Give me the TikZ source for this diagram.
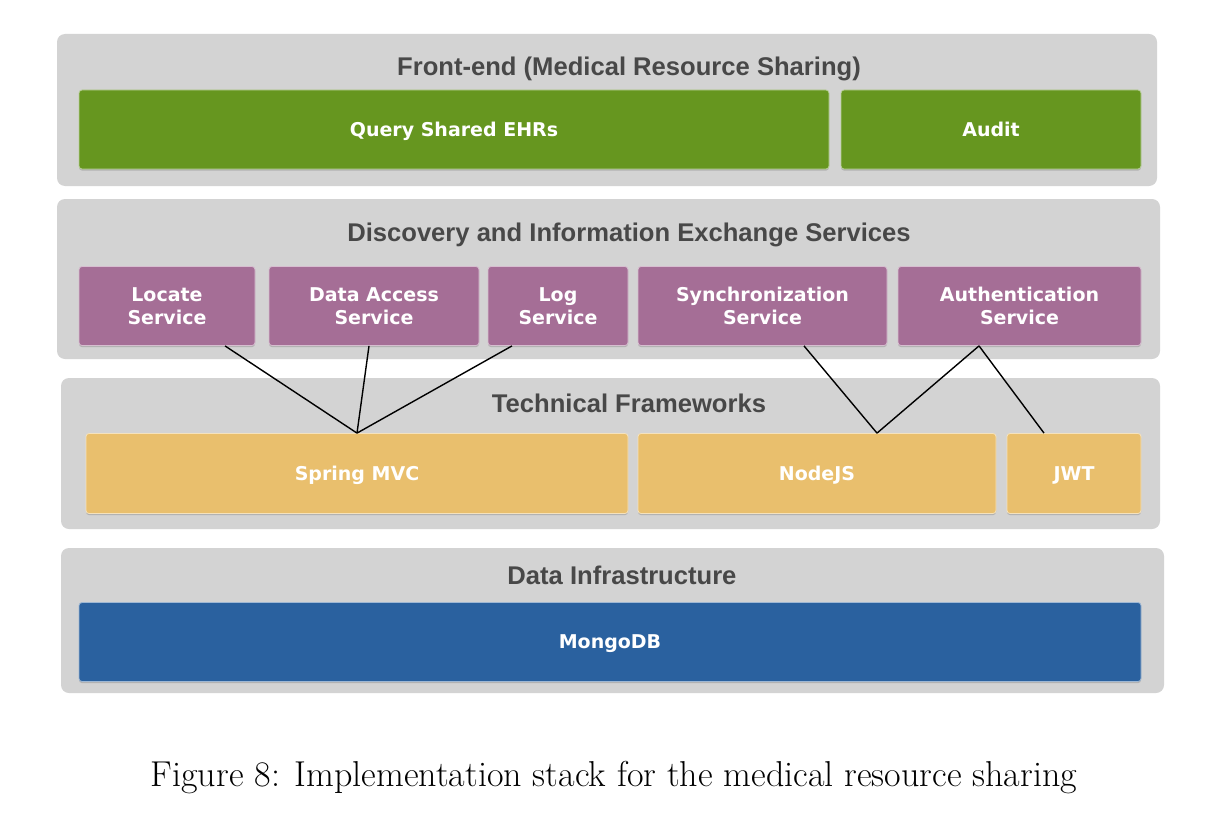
\documentclass[tikz,border=0pt]{standalone}
\usepackage{fontspec}
\newfontfamily\headfont{Liberation Sans}
\newfontfamily\boxfont{DejaVu Sans}
\definecolor{panelgray}{RGB}{211,211,211}
\definecolor{headgray}{RGB}{72,72,72}
\definecolor{fgreen}{RGB}{102,150,31}
\definecolor{fpurple}{RGB}{165,110,150}
\definecolor{fyellow}{RGB}{233,191,109}
\definecolor{fblue}{RGB}{42,97,159}
\begin{document}
\begin{tikzpicture}[x=1pt,y=-1pt,
  panel/.style={fill=panelgray, rounded corners=8pt, inner sep=0pt, draw=none},
  head/.style={text=headgray, font=\headfont\fontsize{25.6}{30}\selectfont\bfseries, inner sep=0pt, anchor=base},
  cbox/.style={rounded corners=3pt, inner sep=0pt, draw=white!55!#1, line width=0.8pt, fill=#1,
     text=white, align=center, font=\boxfont\fontsize{19}{23}\selectfont\bfseries,
     preaction={fill=black!30, draw=none, transform canvas={yshift=-1.6pt}}},
  oneline/.style={text depth=0pt},
  link/.style={draw=black, line width=1.4pt}
]
\useasboundingbox (0,0) rectangle (1212,824);
\fill[white] (0,0) rectangle (1212,824);

% panels
\node[panel, minimum width=1100pt, minimum height=152pt] (p1) at (607,110) {};
\node[panel, minimum width=1103pt, minimum height=160pt] (p2) at (608.5,279) {};
\node[panel, minimum width=1099pt, minimum height=151pt] (p3) at (610.5,453.5) {};
\node[panel, minimum width=1103pt, minimum height=145pt] (p4) at (612.5,620.5) {};

% headings
\node[head] (h1) at (629,76) {Front-end (Medical Resource Sharing)};
\node[head] (h2) at (629,241) {Discovery and Information Exchange Services};
\node[head] (h3) at (629,412) {Technical Frameworks};
\node[head] (h4) at (622,584) {Data Infrastructure};

% front-end
\node[cbox=fgreen, oneline, minimum width=750pt, minimum height=79pt] (query) at (454,129.5) {Query Shared EHRs};
\node[cbox=fgreen, oneline, minimum width=300pt, minimum height=79pt] (audit) at (991,129.5) {Audit};

% services
\node[cbox=fpurple, minimum width=176pt, minimum height=79pt] (loc) at (167,306) {Locate\\Service};
\node[cbox=fpurple, minimum width=210pt, minimum height=79pt] (das) at (374,306) {Data Access\\Service};
\node[cbox=fpurple, minimum width=140pt, minimum height=79pt] (log) at (558,306) {Log\\Service};
\node[cbox=fpurple, minimum width=249pt, minimum height=79pt] (sync) at (762.5,306) {Synchronization\\Service};
\node[cbox=fpurple, minimum width=243pt, minimum height=79pt] (auth) at (1019.5,306) {Authentication\\Service};

% frameworks
\node[cbox=fyellow, oneline, minimum width=542pt, minimum height=80pt] (spring) at (357,473.5) {Spring MVC};
\node[cbox=fyellow, oneline, minimum width=358pt, minimum height=80pt] (node) at (817,473.5) {NodeJS};
\node[cbox=fyellow, oneline, minimum width=134pt, minimum height=80pt] (jwt) at (1074,473.5) {JWT};

% data
\node[cbox=fblue, oneline, minimum width=1062pt, minimum height=79pt] (mongo) at (610,642) {MongoDB};

% connectors
\draw[link] ([xshift=58pt]loc.south) -- (spring.north);
\draw[link] ([xshift=-5pt]das.south) -- (spring.north);
\draw[link] ([xshift=-46pt]log.south) -- (spring.north);
\draw[link] ([xshift=41.5pt]sync.south) -- ([xshift=60pt]node.north);
\draw[link] ([xshift=-40.5pt]auth.south) -- ([xshift=60pt]node.north);
\draw[link] ([xshift=-40.5pt]auth.south) -- ([xshift=-30pt]jwt.north);

% caption
\node[inner sep=0pt, anchor=base, font=\fontsize{36}{42}\selectfont] (cap) at (614,786) {Figure 8: Implementation stack for the medical resource sharing};
\end{tikzpicture}
\end{document}
